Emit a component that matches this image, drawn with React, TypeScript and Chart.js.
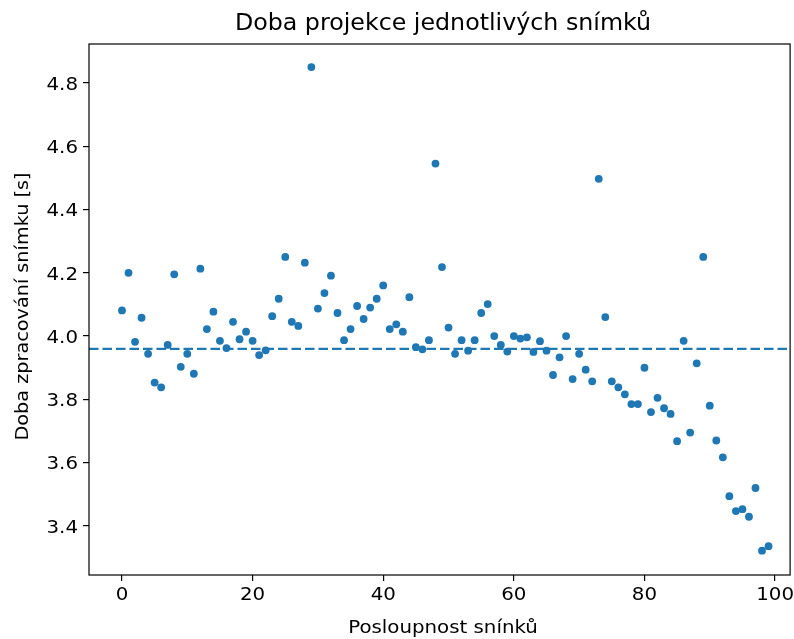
import React, { useEffect, useRef } from "react";
import { Chart, registerables } from "chart.js";

Chart.register(...registerables);

const chartTitle = "Doba projekce jednotlivých snímků";
const xAxisTitle = "Posloupnost snínků";
const yAxisTitle = "Doba zpracování snímku [s]";

const frameTimes: number[] = [
  4.081, 4.2, 3.982, 4.058, 3.944, 3.853, 3.838, 3.972, 4.195, 3.903,
  3.944, 3.881, 4.213, 4.022, 4.077, 3.985, 3.962, 4.045, 3.99, 4.014,
  3.985, 3.94, 3.955, 4.063, 4.118, 4.25, 4.045, 4.032, 4.232, 4.85,
  4.087, 4.136, 4.191, 4.073, 3.987, 4.022, 4.095, 4.054, 4.09, 4.118,
  4.16, 4.022, 4.037, 4.014, 4.123, 3.965, 3.958, 3.987, 4.545, 4.218,
  4.027, 3.944, 3.987, 3.954, 3.987, 4.073, 4.101, 4.0, 3.972, 3.951,
  4.0, 3.992, 3.996, 3.95, 3.984, 3.954, 3.877, 3.933, 4.0, 3.864,
  3.944, 3.894, 3.857, 4.497, 4.06, 3.857, 3.838, 3.816, 3.785, 3.785,
  3.9, 3.76, 3.805, 3.772, 3.754, 3.668, 3.985, 3.695, 3.914, 4.25,
  3.78, 3.67, 3.617, 3.494, 3.447, 3.453, 3.429, 3.52, 3.322, 3.336,
];
const frameIndex: number[] = frameTimes.map((_, i) => i);

const xTicks = [0, 20, 40, 60, 80, 100];
const yTicks = [3.4, 3.6, 3.8, 4.0, 4.2, 4.4, 4.6, 4.8];

const BLUE = "#1f77b4";
const FONT = "'DejaVu Sans', sans-serif";
const STRETCH = 1.07;

function stretchedText(ctx: any, text: string, x: number, y: number, sx: number) {
  ctx.save();
  ctx.translate(x, y);
  ctx.scale(sx, 1);
  ctx.fillText(text, 0, 0);
  ctx.restore();
}

export default function App() {
  const ref = useRef<HTMLCanvasElement | null>(null);

  useEffect(() => {
    document.body.style.margin = "0";
    const canvas = ref.current;
    if (!canvas) return;
    const mean = frameTimes.reduce((a, b) => a + b, 0) / frameTimes.length;

    const decor = {
      id: "decor",
      beforeDatasetsDraw(chart: any) {
        const { ctx, chartArea, scales } = chart;
        const y = scales.y.getPixelForValue(mean);
        ctx.save();
        ctx.beginPath();
        ctx.rect(chartArea.left, chartArea.top, chartArea.right - chartArea.left, chartArea.bottom - chartArea.top);
        ctx.clip();
        ctx.strokeStyle = BLUE;
        ctx.lineWidth = 2.4;
        ctx.setLineDash([9.5, 4]);
        ctx.beginPath();
        ctx.moveTo(chartArea.left, y);
        ctx.lineTo(chartArea.right, y);
        ctx.stroke();
        ctx.restore();
      },
      afterDraw(chart: any) {
        const { ctx, chartArea, scales } = chart;
        ctx.save();
        ctx.strokeStyle = "#000";
        ctx.lineWidth = 1.2;
        ctx.strokeRect(chartArea.left, chartArea.top, chartArea.right - chartArea.left, chartArea.bottom - chartArea.top);
        ctx.fillStyle = "#000";

        // tick labels
        ctx.font = `18.5px ${FONT}`;
        ctx.textBaseline = "alphabetic";
        ctx.textAlign = "center";
        for (const v of xTicks) {
          const px = scales.x.getPixelForValue(v);
          stretchedText(ctx, String(v), px, chartArea.bottom + 25, STRETCH);
        }
        ctx.textAlign = "right";
        for (const v of yTicks) {
          const py = scales.y.getPixelForValue(v);
          stretchedText(ctx, v.toFixed(1), chartArea.left - 11, py + 6.8, STRETCH);
        }

        // titles
        ctx.textAlign = "center";
        ctx.font = `22.2px ${FONT}`;
        stretchedText(ctx, chartTitle, 443, 30, STRETCH);
        ctx.font = `18.5px ${FONT}`;
        stretchedText(ctx, xAxisTitle, 443, 633, STRETCH);
        ctx.translate(28, (chartArea.top + chartArea.bottom) / 2 - 3);
        ctx.rotate(-Math.PI / 2);
        stretchedText(ctx, yAxisTitle, 0, 0, 1.04);
        ctx.restore();
      },
    };

    const chart = new Chart(canvas, {
      type: "scatter",
      data: {
        datasets: [
          {
            data: frameIndex.map((x, i) => ({ x, y: frameTimes[i] })),
            backgroundColor: BLUE,
            borderColor: BLUE,
            borderWidth: 0,
            pointRadius: 3.9,
            pointHoverRadius: 3.9,
          },
        ],
      },
      options: {
        responsive: false,
        animation: false,
        devicePixelRatio: 1,
        layout: { padding: { top: 44, right: 3, bottom: 0, left: 0 } },
        plugins: { legend: { display: false }, tooltip: { enabled: false }, title: { display: false } },
        scales: {
          x: {
            type: "linear",
            min: -5.05,
            max: 102.3,
            border: { display: false },
            grid: { drawOnChartArea: false, drawTicks: true, tickLength: 6, color: "#000", lineWidth: 1.2 },
            ticks: { display: false },
            afterBuildTicks: (scale: any) => {
              scale.ticks = xTicks.map((v) => ({ value: v }));
            },
            afterFit: (scale: any) => {
              scale.height = 64;
              scale.paddingLeft = 0;
              scale.paddingRight = 0;
            },
          },
          y: {
            type: "linear",
            min: 3.245,
            max: 4.923,
            border: { display: false },
            grid: { drawOnChartArea: false, drawTicks: true, tickLength: 6, color: "#000", lineWidth: 1.2 },
            ticks: { display: false },
            afterBuildTicks: (scale: any) => {
              scale.ticks = yTicks.map((v) => ({ value: v }));
            },
            afterFit: (scale: any) => {
              scale.width = 89;
              scale.paddingTop = 0;
              scale.paddingBottom = 0;
            },
          },
        },
      },
      plugins: [decor],
    });
    return () => chart.destroy();
  }, []);

  return (
    <div style={{ position: "relative", width: 794, height: 639, background: "#fff" }}>
      <canvas ref={ref} width={794} height={639} style={{ display: "block" }} />
    </div>
  );
}
